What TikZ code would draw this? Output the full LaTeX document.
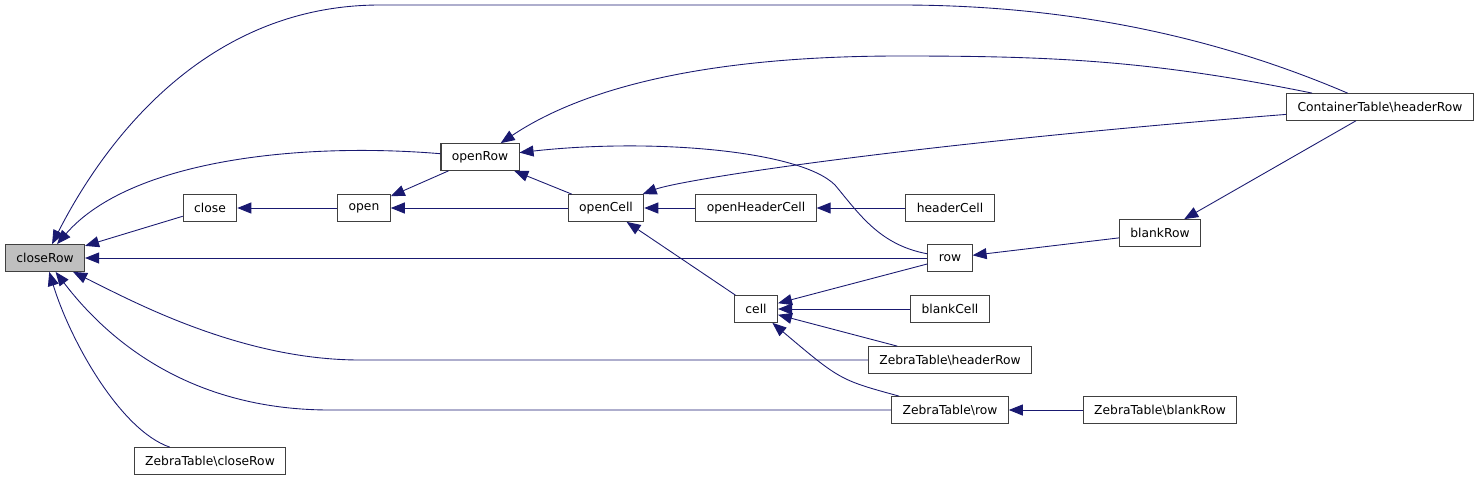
\documentclass[tikz,border=0pt]{standalone}
\usepackage{fontspec}
\setmainfont{DejaVu Sans}
\usetikzlibrary{arrows.meta}
\definecolor{edgeblue}{HTML}{191970}
\tikzset{
  fn/.style={draw=black!75, line width=0.6pt, fill=white, inner xsep=6.2pt,
    minimum height=0.534cm, font=\fontsize{7}{8}\selectfont},
  caller/.style={draw=edgeblue, line width=0.5pt,
    -{Triangle[length=0.28cm,width=0.22cm]}}
}
\begin{document}
\begin{tikzpicture}[x=0.02cm, y=-0.02cm]
    \useasboundingbox (0,0) rectangle (1480,480);
    \node[fn, fill=black!25] (closeRow) at (45,258) {closeRow};
    \node[fn] (close) at (210,208) {close};
    \node[fn] (open) at (364,208) {open};
    \node[fn] (openRow) at (480,157) {openRow};
    \node[fn] (openCell) at (606,208) {openCell};
    \node[fn] (openHeaderCell) at (756,208) {openHeaderCell};
    \node[fn] (headerCell) at (950,208) {headerCell};
    \node[fn] (row) at (950,258) {row};
    \node[fn] (cell) at (756,309) {cell};
    \node[fn] (blankCell) at (950,309) {blankCell};
    \node[fn] (zebraHeaderRow) at (950,360) {ZebraTable\textbackslash headerRow};
    \node[fn] (zebraRow) at (950,410) {ZebraTable\textbackslash row};
    \node[fn] (zebraBlankRow) at (1160,410) {ZebraTable\textbackslash blankRow};
    \node[fn] (blankRow) at (1160,233) {blankRow};
    \node[fn] (containerHeaderRow) at (1380,107) {ContainerTable\textbackslash headerRow};
    \node[fn] (zebraCloseRow) at (210,461) {ZebraTable\textbackslash closeRow};
    \draw[caller] (close) -- (closeRow);
    \draw[caller] (open) -- (close);
    \draw[caller] (openRow) -- (open);
    \draw[caller] (openCell) -- (openRow);
    \draw[caller] (openCell) -- (open);
    \draw[caller] (openHeaderCell) -- (openCell);
    \draw[caller] (headerCell) -- (openHeaderCell);
    \draw[caller] (cell) -- (openCell);
    \draw[caller] (row) -- (cell);
    \draw[caller] (blankCell) -- (cell);
    \draw[caller] (zebraHeaderRow) -- (cell);
    \draw[caller] (zebraRow) .. controls (840,380) .. (cell);
    \draw[caller] (row) .. controls (880,245) and (860,215) .. (835,185)
      .. controls (800,150) and (650,138) .. (openRow);
    \draw[caller] (containerHeaderRow) .. controls (1150,60) and (1050,56) .. (900,56)
      .. controls (700,56) and (580,90) .. (openRow);
    \draw[caller] (containerHeaderRow) .. controls (900,145) and (680,180) .. (openCell);
    \draw[caller] (containerHeaderRow) -- (blankRow);
    \draw[caller] (blankRow) -- (row);
    \draw[caller] (zebraBlankRow) -- (zebraRow);
    \draw[caller] (containerHeaderRow) .. controls (1200,30) and (1050,5) .. (900,5)
      -- (380,5) .. controls (200,5) and (100,150) .. (closeRow);
    \draw[caller] (openRow) .. controls (300,142) and (130,160) .. (closeRow);
    \draw[caller] (row) -- (closeRow);
    \draw[caller] (zebraHeaderRow.west) -- (360,360) .. controls (240,360) and (130,300) .. (closeRow);
    \draw[caller] (zebraRow.west) -- (330,410) .. controls (180,410) and (100,330) .. (closeRow);
    \draw[caller] (zebraCloseRow) .. controls (120,430) and (70,340) .. (closeRow);
  \end{tikzpicture}
\end{document}
